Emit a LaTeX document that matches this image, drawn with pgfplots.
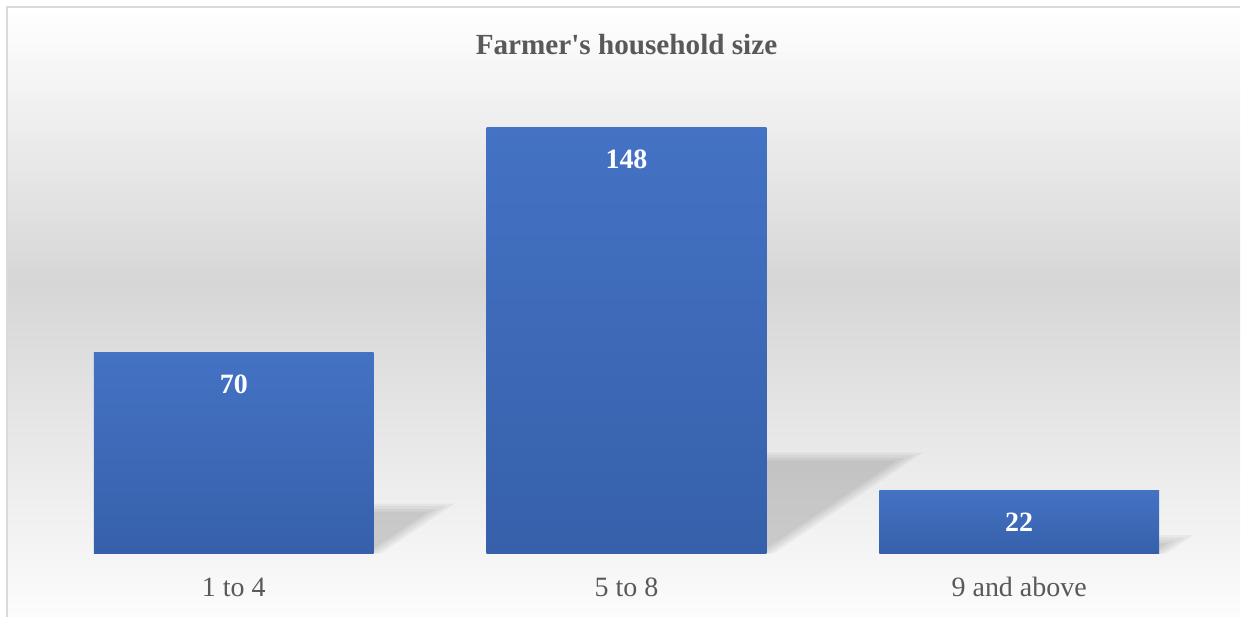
\documentclass[border=0pt]{standalone}
\usepackage{pgfplots}
\pgfplotsset{compat=1.18}
\usepackage{fontspec}
\setmainfont{Liberation Serif}

\definecolor{txt}{HTML}{595959}
\definecolor{barTop}{HTML}{4472C4}
\definecolor{barBot}{HTML}{3660AA}
\definecolor{bgMid}{HTML}{D6D6D6}
\definecolor{bgBot}{HTML}{FCFCFC}
\definecolor{frameGray}{HTML}{D9D9D9}

% chart-area fill: white at the top, grey a little above the middle, near white at the bottom
\pgfdeclareverticalshading{chartbg}{100bp}{%
  color(0bp)=(bgBot); color(25bp)=(bgBot); color(52.4bp)=(bgMid);
  color(75bp)=(white); color(100bp)=(white)}

\begin{document}
\begin{tikzpicture}[x=0.5pt,y=0.5pt]
\fill[white] (0,0) rectangle (1241,617);
\shade[shading=chartbg] (8,0) rectangle (1241,609);
\draw[frameGray, line width=1pt] (7.5,0) -- (7.5,609.5) -- (1241,609.5);

% title
\node[anchor=base, text=txt, font=\fontsize{14.6}{17}\selectfont\bfseries, inner sep=0pt]
  at (627,562) {Farmer\textquotesingle s household size};

\begin{axis}[
  at={(18.75pt,31.5pt)}, anchor=south west,
  scale only axis, width=589.5pt, height=230.27pt,
  xmin=-0.5, xmax=2.5, ymin=0, ymax=160,
  axis line style={draw=none}, tick style={draw=none},
  ytick=\empty,
  xtick={0,1,2},
  xticklabels={1 to 4,5 to 8,9 and above},
  xticklabel style={anchor=base, yshift=-21.5pt, text=txt,
    font=\fontsize{14}{17}\selectfont},
  /pgf/number format/assume math mode=true,
  clip=false,
  bardata/.style={ybar, bar width=140pt, bar shift=0pt, draw=none,
    top color=barTop, bottom color=barBot,
    nodes near coords,
    nodes near coords style={anchor=base, yshift=-20.5pt, text=white,
      font=\fontsize{14}{17}\selectfont\bfseries}},
  shadowlayer/.style={fill=black, fill opacity=0.042, draw=none, forget plot},
]
% soft perspective shadows, built from nested translucent layers
% bar 1
\addplot[shadowlayer] coordinates {(-0.3562,0) (0.3740,0) (0.5618,17.35) (-0.1834,17.35)};
\addplot[shadowlayer] coordinates {(-0.3562,0) (0.3626,0) (0.5410,16.48) (-0.1834,16.48)};
\addplot[shadowlayer] coordinates {(-0.3562,0) (0.3498,0) (0.5170,15.44) (-0.1834,15.44)};
\addplot[shadowlayer] coordinates {(-0.3562,0) (0.3384,0) (0.4961,14.57) (-0.1834,14.57)};
% bar 2
\addplot[shadowlayer] coordinates {(0.6438,0) (1.3740,0) (1.7543,35.13) (1.0091,35.13)};
\addplot[shadowlayer] coordinates {(0.6438,0) (1.3626,0) (1.7335,34.26) (1.0091,34.26)};
\addplot[shadowlayer] coordinates {(0.6438,0) (1.3498,0) (1.7095,33.22) (1.0091,33.22)};
\addplot[shadowlayer] coordinates {(0.6438,0) (1.3384,0) (1.6886,32.35) (1.0091,32.35)};
% bar 3
\addplot[shadowlayer] coordinates {(1.6438,0) (2.3740,0) (2.4433,6.41) (1.6981,6.41)};
\addplot[shadowlayer] coordinates {(1.6438,0) (2.3626,0) (2.4225,5.54) (1.6981,5.54)};
\addplot[shadowlayer] coordinates {(1.6438,0) (2.3498,0) (2.3985,4.50) (1.6981,4.50)};
\addplot[shadowlayer] coordinates {(1.6438,0) (2.3384,0) (2.3777,3.63) (1.6981,3.63)};

% bars, one plot each so every bar carries its own gradient
\addplot[bardata] coordinates {(0,70)};
\addplot[bardata] coordinates {(1,148)};
\addplot[bardata] coordinates {(2,22)};
\end{axis}
\end{tikzpicture}
\end{document}
